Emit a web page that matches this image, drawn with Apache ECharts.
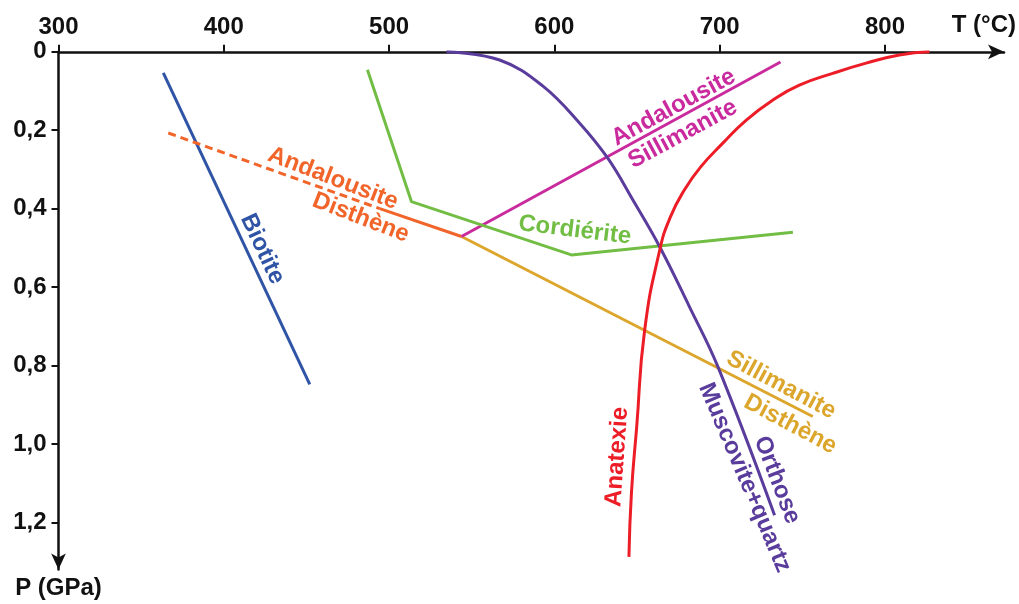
<!DOCTYPE html>
<html>
<head>
<meta charset="utf-8">
<title>Diagramme P-T</title>
<script src="https://cdn.jsdelivr.net/npm/echarts@6/dist/echarts.min.js"></script>
<style>
  html, body { margin: 0; padding: 0; background: #ffffff; }
  #chart { width: 1019px; height: 604px; }
</style>
</head>
<body>
<div id="chart"></div>
<script>
// température (°C) en x, pression (GPa) en y
const xTicks = [300, 400, 500, 600, 700, 800]
const yTicks = [0, 0.2, 0.4, 0.6, 0.8, 1.0, 1.2]
const yTickLabels = ['0', '0,2', '0,4', '0,6', '0,8', '1,0', '1,2']

const biotite = [[363.4, 0.054], [452.0, 0.848]]
const andalousiteDisthenePointille = [[366.4, 0.207], [494.4, 0.400]]
const andalousiteDisthene = [[494.4, 0.400], [543.8, 0.471]]
const sillimaniteDisthene = [[543.8, 0.471], [756.3, 0.930]]
const andalousiteSillimanite = [[543.8, 0.471], [736.8, 0.026]]
const cordierite = [[486.9, 0.046], [513.5, 0.382], [610.3, 0.518], [744.3, 0.460]]
const muscoviteQuartz = [
  [534.7, 0.000], [566.9, 0.021], [592.9, 0.087], [615.3, 0.182],
  [632.4, 0.272], [647.5, 0.378], [663.7, 0.497], [681.8, 0.651],
  [698.9, 0.803], [733.2, 1.182]
]
const anatexie = [
  [826.9, 0.000], [808.7, 0.008], [788.6, 0.029], [768.4, 0.055],
  [748.2, 0.085], [732.2, 0.123], [716.1, 0.174], [701.9, 0.233],
  [688.4, 0.294], [678.7, 0.352], [670.2, 0.421], [663.7, 0.506],
  [654.6, 0.710], [649.8, 0.956], [646.6, 1.126], [645.1, 1.288]
]

// étiquettes des courbes : texte, point d'ancrage (T, P), angle
const curveLabels = [
  { text: 'Biotite', at: [423.3, 0.503], angle: -65, curve: 'biotite' },
  { text: 'Andalousite', at: [466.1, 0.323], angle: -21, curve: 'andDis' },
  { text: 'Disthène', at: [482.8, 0.423], angle: -21, curve: 'andDis' },
  { text: 'Andalousite', at: [672.1, 0.142], angle: 28.5, curve: 'andSil' },
  { text: 'Sillimanite', at: [677.7, 0.210], angle: 28.5, curve: 'andSil' },
  { text: 'Cordiérite', at: [612.3, 0.455], angle: -7, curve: 'cordierite' },
  { text: 'Sillimanite', at: [737.2, 0.850], angle: -28, curve: 'silDis' },
  { text: 'Disthène', at: [742.7, 0.950], angle: -28, curve: 'silDis' },
  { text: 'Anatexie', at: [638.0, 1.033], angle: 86, curve: 'anatexie' },
  { text: 'Orthose', at: [734.7, 1.092], angle: -69, curve: 'muscovite' },
  { text: 'Muscovite+quartz', at: [715.1, 1.086], angle: -67, curve: 'muscovite' }
]

const colors = {
  biotite: '#2f54a5',
  andDis: '#f1652a',
  silDis: '#dca62c',
  andSil: '#c92a9d',
  cordierite: '#72be45',
  muscovite: '#5a3c9c',
  anatexie: '#ec1d27'
}

const FONT = '"Liberation Sans", Arial, Helvetica, sans-serif'
const FONT_SIZE = 24

function lineSeries(name, data, color, extra) {
  return Object.assign({
    name: name,
    type: 'line',
    data: data,
    symbol: 'none',
    smooth: false,
    lineStyle: { width: 3, color: color },
    silent: true,
    z: 3
  }, extra || {})
}

function createOption() {
  return {
    backgroundColor: '#ffffff',
    animation: false,
    textStyle: { fontFamily: FONT },
    grid: { left: 58.5, right: 14.4, top: 51.8, bottom: 34.6, containLabel: false },
    xAxis: {
      type: 'value',
      position: 'top',
      min: 300,
      max: 872,
      name: 'T (°C)',
      nameLocation: 'end',
      nameGap: 12,
      nameTextStyle: {
        color: '#111', fontSize: FONT_SIZE, fontWeight: 'bold', fontFamily: FONT,
        align: 'right', verticalAlign: 'bottom', padding: [0, 0, 14, 0]
      },
      axisLine: {
        onZero: false,
        symbol: ['none', 'arrow'],
        symbolSize: [11, 16],
        lineStyle: { color: '#111', width: 2.5 }
      },
      axisTick: { show: true, length: 7, lineStyle: { color: '#111', width: 2 }, customValues: xTicks },
      axisLabel: {
        color: '#111', fontSize: FONT_SIZE, fontWeight: 'bold', fontFamily: FONT, margin: 12,
        customValues: xTicks
      },
      splitLine: { show: false }
    },
    yAxis: {
      type: 'value',
      inverse: true,
      min: 0,
      max: 1.32,
      name: 'P (GPa)',
      nameLocation: 'end',
      nameGap: 7,
      nameTextStyle: {
        color: '#111', fontSize: FONT_SIZE, fontWeight: 'bold', fontFamily: FONT,
        align: 'center', verticalAlign: 'top'
      },
      axisLine: {
        show: true,
        onZero: false,
        // axe inversé : la flèche se place au début pour pointer vers le bas
        symbol: ['arrow', 'none'],
        symbolSize: [11, 16],
        lineStyle: { color: '#111', width: 2.5 }
      },
      axisTick: { show: true, length: 7, lineStyle: { color: '#111', width: 2 }, customValues: yTicks },
      axisLabel: {
        color: '#111', fontSize: FONT_SIZE, fontWeight: 'bold', fontFamily: FONT, margin: 12,
        customValues: yTicks,
        formatter: function (v) {
          const i = yTicks.findIndex(t => Math.abs(t - v) < 1e-6)
          return i >= 0 ? yTickLabels[i] : ''
        }
      },
      splitLine: { show: false }
    },
    series: [
      lineSeries('Biotite', biotite, colors.biotite),
      lineSeries('Andalousite/Disthène (pointillé)', andalousiteDisthenePointille, colors.andDis, {
        lineStyle: { width: 3, color: colors.andDis, type: [8, 5] }
      }),
      lineSeries('Andalousite/Disthène', andalousiteDisthene, colors.andDis),
      lineSeries('Sillimanite/Disthène', sillimaniteDisthene, colors.silDis),
      lineSeries('Andalousite/Sillimanite', andalousiteSillimanite, colors.andSil),
      lineSeries('Cordiérite', cordierite, colors.cordierite),
      lineSeries('Muscovite+quartz/Orthose', muscoviteQuartz, colors.muscovite, { smooth: 0.4 }),
      lineSeries('Anatexie', anatexie, colors.anatexie, { smooth: 0.5 }),
      {
        name: 'étiquettes',
        type: 'scatter',
        symbolSize: 0,
        silent: true,
        z: 5,
        itemStyle: { opacity: 1 },
        data: curveLabels.map(l => ({
          name: l.text,
          value: l.at,
          label: { rotate: l.angle, color: colors[l.curve] }
        })),
        label: {
          show: true,
          position: 'inside',
          formatter: p => p.name,
          fontSize: FONT_SIZE,
          fontWeight: 'bold',
          fontFamily: FONT,
          opacity: 1,
          textBorderWidth: 0,
          align: 'center',
          verticalAlign: 'middle'
        }
      }
    ]
  }
}

const chart = echarts.init(document.getElementById('chart'))
chart.setOption(createOption())

window.addEventListener('resize', () => chart.resize())
</script>
</body>
</html>
